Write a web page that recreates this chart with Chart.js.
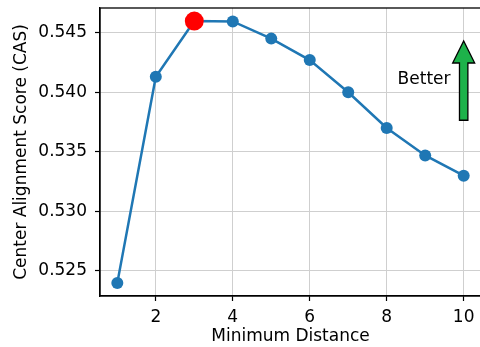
<!DOCTYPE html>
<html>
<head>
<meta charset="utf-8">
<script src="https://cdn.jsdelivr.net/npm/chart.js@4/dist/chart.umd.min.js"></script>
<style>
  html, body { margin: 0; padding: 0; background: #fff; overflow: hidden; }
  #wrap { width: 482px; height: 347px; position: relative; }
</style>
</head>
<body>
<div id="wrap"><canvas id="c"></canvas></div>
<script>
// ---- data ----
const minDistance = [1, 2, 3, 4, 5, 6, 7, 8, 9, 10];
const casScores = [0.5240, 0.5413, 0.54597, 0.54594, 0.5445, 0.5427, 0.5400, 0.5370, 0.5347, 0.5330];
const highlightIndex = 2;
const xTicks = [2, 4, 6, 8, 10];
const yTicks = [0.525, 0.530, 0.535, 0.540, 0.545];
const xLabel = 'Minimum Distance';
const yLabel = 'Center Alignment Score (CAS)';
const annotationText = 'Better';
const annotationTextPos = [8.97, 0.5411];
const arrowX = 10;
const arrowFrom = 0.53765;
const arrowTo = 0.5443;

const FONT = 'DejaVu Sans';

const framePlugin = {
  id: 'frame',
  afterDatasetsDraw(chart) {
    const {ctx, chartArea: a, scales} = chart;
    ctx.save();
    ctx.strokeStyle = '#000';
    ctx.lineWidth = 1.3;
    ctx.strokeRect(a.left, a.top, a.right - a.left, a.bottom - a.top);

    const xs = scales.x, ys = scales.y;
    ctx.fillStyle = '#000';
    ctx.font = '17px "' + FONT + '"';
    ctx.textAlign = 'center';
    ctx.textBaseline = 'middle';
    ctx.fillText(annotationText, xs.getPixelForValue(annotationTextPos[0]), ys.getPixelForValue(annotationTextPos[1]));

    const ax = xs.getPixelForValue(arrowX);
    const y0 = ys.getPixelForValue(arrowFrom);
    const y1 = ys.getPixelForValue(arrowTo);
    const sw = 4.2, hw = 11, hl = 22;
    ctx.beginPath();
    ctx.moveTo(ax - sw, y0);
    ctx.lineTo(ax - sw, y1 + hl);
    ctx.lineTo(ax - hw, y1 + hl);
    ctx.lineTo(ax, y1);
    ctx.lineTo(ax + hw, y1 + hl);
    ctx.lineTo(ax + sw, y1 + hl);
    ctx.lineTo(ax + sw, y0);
    ctx.closePath();
    ctx.fillStyle = '#1db24a';
    ctx.fill();
    ctx.lineWidth = 1.3;
    ctx.strokeStyle = '#000';
    ctx.lineJoin = 'miter';
    ctx.stroke();
    ctx.restore();
  }
};

const seriesPoints = minDistance.map((x, i) => ({x, y: casScores[i]}));

new Chart(document.getElementById('c'), {
  type: 'line',
  data: {
    datasets: [
      {
        label: 'best',
        data: [seriesPoints[highlightIndex]],
        showLine: false,
        pointRadius: 9.5,
        pointHoverRadius: 9.5,
        pointBackgroundColor: '#ff0000',
        pointBorderWidth: 0,
        order: 0,
        clip: false
      },
      {
        label: 'CAS',
        data: seriesPoints,
        borderColor: '#1f77b4',
        borderWidth: 2.5,
        pointRadius: 6,
        pointHoverRadius: 6,
        pointBackgroundColor: '#1f77b4',
        pointBorderWidth: 0,
        tension: 0,
        fill: false,
        order: 1,
        clip: false
      }
    ]
  },
  options: {
    responsive: true,
    maintainAspectRatio: false,
    animation: false,
    events: [],
    layout: { autoPadding: false, padding: { top: 8, right: 1, left: 0, bottom: 0 } },
    plugins: { legend: { display: false }, tooltip: { enabled: false } },
    scales: {
      x: {
        type: 'linear',
        min: 0.55,
        max: 10.45,
        afterBuildTicks(s) { s.ticks = xTicks.map(v => ({value: v})); },
        afterFit(s) { s.height = 51; s.paddingLeft = 0; s.paddingRight = 0; },
        grid: { color: '#cfcfcf', lineWidth: 1, drawTicks: true, tickLength: 5, tickColor: '#000', tickWidth: 1.2 },
        border: { display: true, color: '#000', width: 1.3 },
        ticks: { font: { family: FONT, size: 17 }, color: '#000', padding: 6, maxRotation: 0, autoSkip: false,
                 callback: v => String(v) },
        title: { display: true, text: xLabel, font: { family: FONT, size: 17 }, color: '#000', padding: { top: -2, bottom: 0 } }
      },
      y: {
        type: 'linear',
        min: 0.5229,
        max: 0.54707,
        afterBuildTicks(s) { s.ticks = yTicks.map(v => ({value: v})); },
        afterFit(s) { s.width = 100; s.paddingTop = 0; s.paddingBottom = 0; },
        grid: { color: '#cfcfcf', lineWidth: 1, drawTicks: true, tickLength: 5, tickColor: '#000', tickWidth: 1.2 },
        border: { display: true, color: '#000', width: 1.3 },
        ticks: { font: { family: FONT, size: 17 }, color: '#000', padding: 8, autoSkip: false,
                 callback: v => Number(v).toFixed(3) },
        title: { display: true, text: yLabel, font: { family: FONT, size: 17 }, color: '#000', padding: { top: 11, bottom: 0 } }
      }
    }
  },
  plugins: [framePlugin]
});
</script>
</body>
</html>
